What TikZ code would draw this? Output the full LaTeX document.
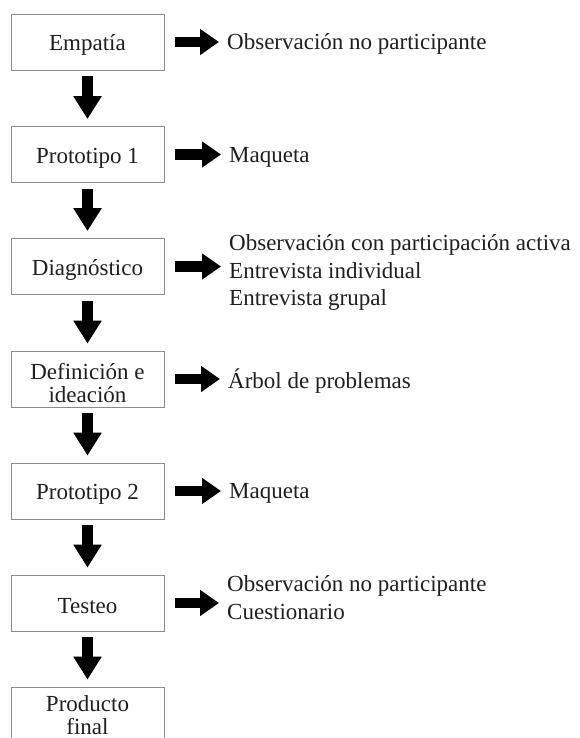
\documentclass[tikz,border=0pt]{standalone}
\usepackage{fontspec}
\setmainfont{Liberation Serif}
\usetikzlibrary{arrows.meta,calc}
\newcommand{\lift}[1]{\rule{0pt}{#1pt}}
\tikzset{
  stepbox/.style={draw=black!45, line width=0.9pt, minimum width=153pt, minimum height=56pt,
    inner sep=0pt, align=center, text=black!88, font=\fontsize{23}{23}\selectfont},
  sidetext/.style={anchor=west, inner sep=0pt, align=left, text=black!88,
    font=\fontsize{23}{27.5}\selectfont},
  downarrow/.style={line width=11pt, -{Triangle[width=27pt,length=23pt]}, shorten <=6pt, shorten >=7pt},
  rightarrow/.style={line width=10.5pt, -{Triangle[width=25pt,length=19pt]}, shorten <=11pt, shorten >=8pt}
}
\begin{document}
\begin{tikzpicture}[x=1pt,y=-1pt]
\useasboundingbox (0,0) rectangle (579,738);
\clip (0,0) rectangle (579,738);
\node[stepbox] (b1) at (87.5,42) {\lift{22}Empatía};
\node[stepbox] (b2) at (87.5,154.5) {\lift{22}Prototipo 1};
\node[stepbox] (b3) at (87.5,266.5) {\lift{22}Diagnóstico};
\node[stepbox] (b4) at (87.5,379) {\lift{25}Definición e\\ideación};
\node[stepbox] (b5) at (87.5,491) {\lift{22}Prototipo 2};
\node[stepbox] (b6) at (87.5,603) {\lift{22}Testeo};
\node[stepbox] (b7) at (87.5,715) {\lift{17}Producto\\final};

\node[sidetext] (t1) at (227,44) {Observación no participante};
\node[sidetext] (t2) at (229,157) {Maqueta};
\node[sidetext] (t3) at (229,272.5) {Observación con participación activa\\Entrevista individual\\Entrevista grupal};
\node[sidetext] (t4) at (228,381) {Árbol de problemas};
\node[sidetext] (t5) at (229,493.5) {Maqueta};
\node[sidetext] (t6) at (227,597.5) {Observación no participante\\Cuestionario};

\foreach \a/\b in {b1/b2,b2/b3,b3/b4,b4/b5,b5/b6,b6/b7}
  \draw[downarrow] (\a.south) -- (\b.north);
\foreach \a/\b in {b1/t1,b2/t2,b3/t3,b4/t4,b5/t5,b6/t6}
  \draw[rightarrow] (\a.east) -- (\a.east -| \b.west);
\end{tikzpicture}
\end{document}
